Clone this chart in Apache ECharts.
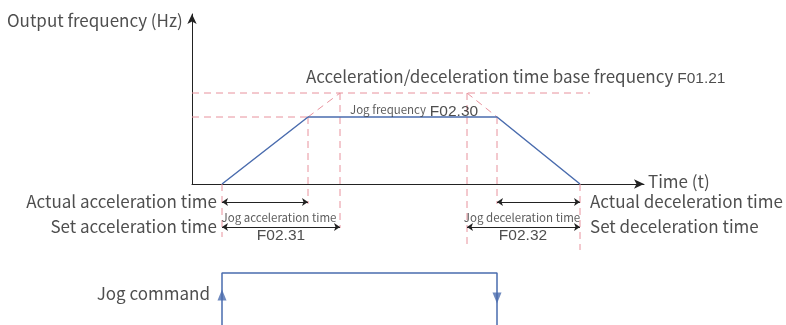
<!DOCTYPE html>
<html>
<head>
<meta charset="utf-8">
<script src="https://cdn.jsdelivr.net/npm/echarts@6/dist/echarts.min.js"></script>
<style>
  html, body { margin: 0; padding: 0; background: #fff; }
  #main { width: 786px; height: 325px; }
</style>
</head>
<body>
<div id="main"></div>
<script>
// time points (x units) and frequencies (y units) of the jog profile
const timePoints = { start: 30, accelActualEnd: 116, accelSetEnd: 148, decelSetStart: 275, decelActualStart: 305, stop: 388 };
const jogFreq = 67;
const baseFreq = 91;

const profile = [
    [timePoints.start, 0],
    [timePoints.accelActualEnd, jogFreq],
    [timePoints.decelActualStart, jogFreq],
    [timePoints.stop, 0]
];
const jogCmdHigh = -89;
const jogCmdLow = -141;
const jogCommand = [
    [timePoints.start, jogCmdLow],
    [timePoints.start, jogCmdHigh],
    [timePoints.decelActualStart, jogCmdHigh],
    [timePoints.decelActualStart, jogCmdLow]
];

// dashed guide segments, '-' splits them
const guides = [
    [0, baseFreq], [398, baseFreq], '-',
    [0, jogFreq], [timePoints.accelActualEnd, jogFreq], '-',
    [timePoints.accelActualEnd, jogFreq], [timePoints.accelSetEnd, baseFreq], '-',
    [timePoints.decelSetStart, baseFreq], [timePoints.decelActualStart, jogFreq], '-',
    [timePoints.start, 0], [timePoints.start, -53], '-',
    [timePoints.accelActualEnd, jogFreq], [timePoints.accelActualEnd, -20], '-',
    [timePoints.accelSetEnd, baseFreq], [timePoints.accelSetEnd, -44], '-',
    [timePoints.decelSetStart, baseFreq], [timePoints.decelSetStart, -61], '-',
    [timePoints.decelActualStart, jogFreq], [timePoints.decelActualStart, -20], '-',
    [timePoints.stop, 0], [timePoints.stop, -66]
];

const rowActual = -18;
const rowSet = -43;
const spans = [
    [[timePoints.start, rowActual], [timePoints.accelActualEnd, rowActual]],
    [[timePoints.start, rowSet], [timePoints.accelSetEnd, rowSet]],
    [[timePoints.decelActualStart, rowActual], [timePoints.stop, rowActual]],
    [[timePoints.decelSetStart, rowSet], [timePoints.stop, rowSet]]
];

const bigFont = 'Noto Sans CJK SC';
const labels = [
    { value: [-185, 163], text: 'Output frequency (Hz)', align: 'left' },
    { value: [114, 107], text: '{a|Acceleration/deceleration time base frequency} {b|F01.21}', align: 'left' },
    { value: [158, 74], text: '{s|Jog frequency} {b|F02.30}', align: 'left' },
    { value: [456, 2], text: 'Time (t)', align: 'left' },
    { value: [25, rowActual], text: 'Actual acceleration time', align: 'right' },
    { value: [25, rowSet], text: 'Set acceleration time', align: 'right' },
    { value: [87, -34], text: '{s|Jog acceleration time}', align: 'center' },
    { value: [89, -50], text: '{b|F02.31}', align: 'center' },
    { value: [398, rowActual], text: 'Actual deceleration time', align: 'left' },
    { value: [398, rowSet], text: 'Set deceleration time', align: 'left' },
    { value: [330, -34], text: '{s|Jog deceleration time}', align: 'center' },
    { value: [331, -50], text: '{b|F02.32}', align: 'center' },
    { value: [18, -110], text: 'Jog command', align: 'right' }
];

const blue = '#4a6cae';
const pink = '#e8929d';

let chart = echarts.init(document.getElementById('main'));
chart.setOption({
    animation: false,
    grid: [
        { left: 192, top: 14, width: 452, height: 170 },
        { left: 192, top: 14, width: 452, height: 311 }
    ],
    xAxis: [
        {
            gridIndex: 0, type: 'value', min: 0, max: 452,
            axisLine: { show: true, symbol: ['none', 'arrow'], symbolSize: [7, 10], lineStyle: { color: '#222', width: 1 } },
            axisTick: { show: false }, axisLabel: { show: false }, splitLine: { show: false }
        },
        { gridIndex: 1, type: 'value', min: 0, max: 452, show: false }
    ],
    yAxis: [
        {
            gridIndex: 0, type: 'value', min: 0, max: 170,
            axisLine: { show: true, symbol: ['none', 'arrow'], symbolSize: [7, 10], lineStyle: { color: '#222', width: 1 } },
            axisTick: { show: false }, axisLabel: { show: false }, splitLine: { show: false }
        },
        { gridIndex: 1, type: 'value', min: -141, max: 170, show: false }
    ],
    series: [
        {
            type: 'line', xAxisIndex: 1, yAxisIndex: 1, data: guides, clip: false,
            symbol: 'none', connectNulls: false,
            lineStyle: { color: pink, width: 1, type: [7, 5] }, z: 1
        },
        {
            type: 'line', xAxisIndex: 1, yAxisIndex: 1, data: profile, clip: false,
            symbol: 'none', lineStyle: { color: blue, width: 1.5 }, z: 3
        },
        {
            type: 'line', xAxisIndex: 1, yAxisIndex: 1, data: jogCommand, clip: false,
            symbol: 'none', lineStyle: { color: blue, width: 1.5 }, z: 3
        },
        {
            type: 'scatter', xAxisIndex: 1, yAxisIndex: 1, clip: false,
            symbol: 'triangle', symbolSize: [9, 11], itemStyle: { color: blue },
            data: [
                { value: [timePoints.start, -111] },
                { value: [timePoints.decelActualStart, -114], symbolRotate: 180 }
            ], z: 4
        },
        {
            type: 'lines', coordinateSystem: 'cartesian2d', xAxisIndex: 1, yAxisIndex: 1,
            symbol: ['arrow', 'arrow'], symbolSize: 6,
            lineStyle: { color: '#222', width: 1, opacity: 1, curveness: 0 },
            data: spans.map(s => ({ coords: s })), z: 2
        },
        {
            type: 'scatter', xAxisIndex: 1, yAxisIndex: 1, clip: false, symbolSize: 0,
            data: labels.map(l => ({
                value: l.value,
                label: {
                    show: true, position: 'inside', formatter: l.text, align: l.align,
                    verticalAlign: 'middle', color: '#222', fontFamily: bigFont, fontSize: 17,
                    rich: {
                        a: { fontFamily: bigFont, fontSize: 17, color: '#222' },
                        b: { fontFamily: 'Liberation Sans', fontSize: 15.5, color: '#222', padding: [3, 0, 0, 0] },
                        s: { fontFamily: bigFont, fontSize: 11.5, color: '#333' }
                    }
                }
            })),
            z: 5
        }
    ]
});
</script>
</body>
</html>
